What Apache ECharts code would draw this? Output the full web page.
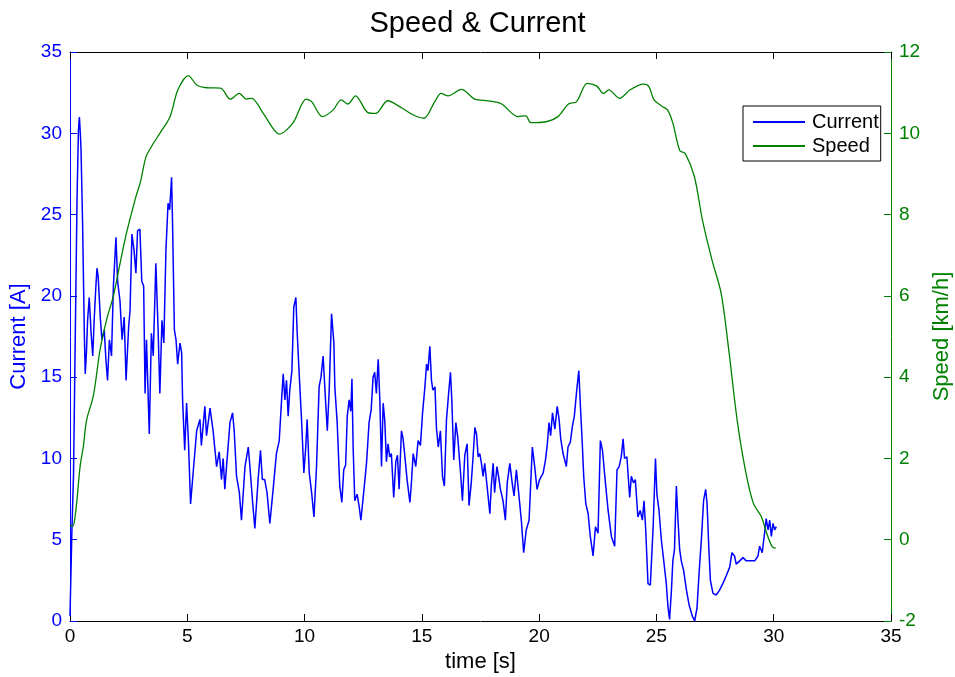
<!DOCTYPE html>
<html>
<head>
<meta charset="utf-8">
<script src="https://cdn.jsdelivr.net/npm/echarts@6/dist/echarts.min.js"></script>
<style>html,body{margin:0;padding:0;background:#fff;}#c{width:955px;height:677px;}</style>
</head>
<body>
<div id="c"></div>
<script>
var xTicks = [0, 5, 10, 15, 20, 25, 30, 35];
var currentTime = [0,0.08,0.15,0.22,0.3,0.36,0.40,0.44,0.47,0.54,0.61,0.65,0.70,0.75,0.82,0.90,0.97,1.03,1.10,1.15,1.20,1.29,1.36,1.46,1.53,1.60,1.68,1.77,1.85,1.96,2.03,2.13,2.22,2.31,2.39,2.50,2.56,2.64,2.73,2.81,2.88,2.98,3.06,3.14,3.20,3.26,3.38,3.47,3.55,3.66,3.76,3.83,3.92,4.00,4.09,4.18,4.25,4.33,4.37,4.45,4.52,4.59,4.69,4.76,4.80,4.89,4.97,5.05,5.14,5.26,5.40,5.54,5.60,5.75,5.82,5.97,6.10,6.25,6.36,6.46,6.53,6.60,6.70,6.82,6.93,7.00,7.10,7.22,7.31,7.46,7.60,7.67,7.78,7.88,8.02,8.12,8.20,8.30,8.40,8.52,8.66,8.80,8.92,9.02,9.09,9.16,9.23,9.30,9.37,9.46,9.54,9.63,9.68,9.77,9.87,9.97,10.05,10.11,10.20,10.30,10.40,10.51,10.62,10.70,10.79,10.90,10.97,11.05,11.15,11.25,11.29,11.39,11.50,11.59,11.67,11.75,11.82,11.90,11.97,12.02,12.07,12.14,12.24,12.33,12.40,12.50,12.64,12.75,12.84,12.92,12.99,13.06,13.14,13.21,13.28,13.35,13.42,13.49,13.56,13.63,13.70,13.80,13.89,13.96,14.03,14.13,14.20,14.27,14.37,14.49,14.55,14.63,14.74,14.84,14.94,15.03,15.13,15.20,15.26,15.34,15.41,15.47,15.56,15.62,15.70,15.79,15.88,15.96,16.05,16.13,16.22,16.28,16.36,16.45,16.53,16.65,16.73,16.83,16.93,17.01,17.10,17.17,17.26,17.33,17.40,17.47,17.54,17.61,17.68,17.78,17.90,17.96,18.04,18.10,18.20,18.27,18.35,18.46,18.56,18.64,18.75,18.85,18.93,19.03,19.14,19.24,19.34,19.45,19.57,19.62,19.71,19.81,19.91,20.02,20.17,20.27,20.35,20.42,20.49,20.57,20.67,20.77,20.85,20.92,21.02,21.09,21.16,21.23,21.33,21.42,21.50,21.59,21.69,21.77,21.84,21.90,21.99,22.09,22.18,22.30,22.40,22.51,22.61,22.70,22.80,22.94,23.08,23.22,23.32,23.41,23.50,23.58,23.64,23.74,23.86,23.93,24.02,24.10,24.21,24.31,24.40,24.47,24.54,24.64,24.74,24.86,24.96,25.02,25.11,25.21,25.32,25.42,25.49,25.56,25.64,25.70,25.77,25.85,25.92,25.99,26.06,26.16,26.28,26.39,26.53,26.63,26.73,26.82,26.92,27.01,27.10,27.16,27.23,27.30,27.41,27.55,27.69,27.83,27.98,28.12,28.22,28.33,28.40,28.55,28.69,28.83,28.98,29.19,29.33,29.40,29.51,29.61,29.68,29.76,29.83,29.90,29.97,30.04,30.11];
var currentValues = [0.3,5.5,9,17,26,30.2,31.0,30.0,29.0,24.2,17.7,15.2,16.5,18.5,19.9,17.7,16.3,18.5,20.5,21.7,21.2,18.7,17.3,17.9,16.1,14.8,17.3,16.3,20.6,23.6,20.9,19.7,17.3,18.7,14.8,18.1,19.1,23.8,22.8,21.4,24.0,24.1,20.9,20.6,14.0,17.3,11.5,17.7,16.3,22.0,17.7,14.0,18.5,17.1,22.8,25.7,25.3,27.3,24.6,17.9,17.3,15.8,17.1,16.5,13.6,10.5,13.4,11.0,7.2,9.3,11.7,12.4,10.8,13.2,11.4,13.1,11.7,9.5,10.4,8.7,10.0,8.1,10.0,12.2,12.8,11.7,8.9,7.9,6.2,9.5,10.7,9.5,7.4,5.7,8.7,10.5,8.7,8.7,7.9,6.0,8.1,10.3,11.1,13.6,15.2,13.6,14.8,12.6,14.2,15.4,19.3,19.9,17.9,15.2,12.4,9.1,10.7,12.4,9.1,7.9,6.4,9.5,14.4,15.0,16.3,13.4,11.7,14.2,18.9,17.1,14.4,12.2,8.3,7.3,9.3,9.6,12.6,13.6,12.9,14.9,10.7,7.4,7.8,7.0,6.2,7.6,9.7,12.2,13.0,15.0,15.3,14.0,16.1,13.5,9.5,13.4,12.3,9.8,10.9,10.1,10.3,7.6,9.8,10.2,8.1,11.7,11.2,10.2,8.7,7.3,8.4,10.3,9.5,11.1,10.8,12.8,14.4,15.8,15.4,16.9,14.8,14.2,14.4,11.9,10.7,11.7,8.9,8.3,12.4,13.8,15.3,13.5,9.9,12.2,11.3,9.1,7.4,10.2,10.9,7.1,8.4,9.8,11.9,11.5,10.1,10.3,9.7,8.9,9.7,8.3,6.6,8.3,9.7,7.9,9.5,8.9,8.1,7.4,6.2,8.5,9.7,8.5,7.7,9.3,7.7,6.2,4.2,5.6,6.2,7.8,10.7,9.5,8.1,8.7,9.1,9.9,10.9,12.2,11.4,12.8,11.8,13.2,12.4,11.2,10.3,9.9,9.5,10.7,11.0,12.0,12.6,14.0,15.4,12.9,10.9,8.9,7.2,6.6,5.2,4.0,5.8,5.4,11.1,10.5,8.9,6.8,5.2,4.6,9.3,9.5,10.1,11.2,10.0,10.1,7.6,8.9,8.5,8.7,6.4,6.8,6.2,7.4,5.7,2.3,2.2,5.8,10.0,7.8,6.8,5.0,3.6,2.3,0.9,0.1,1.9,3.7,4.4,8.3,6.2,4.4,3.7,3.1,1.9,1.0,0.3,0.0,0.8,3.0,5.1,7.4,8.1,7.2,4.6,2.5,1.7,1.6,1.9,2.3,2.8,3.3,4.2,4.0,3.5,3.7,3.9,3.7,3.7,3.7,4.0,4.6,4.2,5.4,6.3,5.6,6.2,5.2,6.0,5.6,5.8];
var speedTime = [0,0.12,0.2,0.3,0.43,0.57,0.71,1.0,1.28,1.56,1.85,2.1,2.39,2.81,3.0,3.24,3.5,3.83,4.26,4.6,5.05,5.4,5.84,6.42,6.83,7.22,7.52,7.75,8.24,8.93,9.5,10.07,10.3,10.76,11.21,11.56,11.85,12.17,12.7,13.04,13.54,14.18,14.64,15.09,15.55,15.82,16.12,16.69,17.26,17.83,18.4,19.09,19.43,19.65,20.34,20.8,21.25,21.6,22.05,22.46,22.74,22.97,23.43,23.88,24.45,24.68,24.9,25.25,25.48,25.7,26.0,26.23,26.62,26.96,27.37,27.76,28.1,28.44,28.79,29.13,29.47,29.7,29.93,30.08];
var speedValues = [0.36,0.33,0.5,1.0,1.8,2.3,2.95,3.55,4.67,5.41,6.0,6.7,7.5,8.44,8.8,9.42,9.7,10.0,10.4,11.07,11.42,11.19,11.12,11.11,10.84,10.98,10.84,10.86,10.49,9.98,10.25,10.84,10.78,10.41,10.57,10.82,10.72,10.92,10.51,10.49,10.8,10.61,10.45,10.37,10.78,10.98,10.92,11.08,10.84,10.8,10.72,10.41,10.43,10.26,10.29,10.41,10.72,10.78,11.23,11.16,10.98,11.07,10.86,11.07,11.21,11.15,10.82,10.66,10.57,10.25,9.57,9.5,8.93,7.87,6.88,6.06,4.59,2.95,1.72,0.9,0.57,0.16,-0.17,-0.21];

var FONT = '"Liberation Sans", Arial, sans-serif';
var BLUE = '#0000ff', GREEN = '#008000';

function pairs(xs, ys) { return xs.map(function (x, i) { return [x, ys[i]]; }); }

var chart = echarts.init(document.getElementById('c'), null, {renderer: 'canvas'});
chart.setOption({
  animation: false,
  backgroundColor: '#fff',
  textStyle: {fontFamily: FONT},
  title: {
    text: 'Speed & Current', left: 'center', top: 4,
    textStyle: {fontFamily: FONT, fontSize: 29, fontWeight: 'normal', color: '#000'}
  },
  legend: {
    orient: 'vertical', left: 743, top: 106,
    backgroundColor: '#fff', borderColor: '#000', borderWidth: 1, borderRadius: 0,
    padding: [5, 2, 4, 10], itemGap: 2, itemWidth: 52, itemHeight: 2,
    icon: 'rect',
    textStyle: {fontFamily: FONT, fontSize: 20, color: '#000', lineHeight: 22, padding: [0, 0, 0, 2]},
    data: [{name: 'Current', itemStyle: {color: BLUE}}, {name: 'Speed', itemStyle: {color: GREEN}}]
  },
  grid: {left: 70, right: 64, top: 52, bottom: 56, containLabel: false, outerBoundsMode: 'none'},
  xAxis: [{
    type: 'value', min: xTicks[0], max: xTicks[xTicks.length - 1], interval: 5, position: 'bottom',
    name: 'time [s]', nameLocation: 'middle', nameGap: 30,
    nameTextStyle: {fontFamily: FONT, fontSize: 22, color: '#000'},
    axisLine: {onZero: false, lineStyle: {color: '#000', width: 1}},
    axisTick: {inside: true, length: 7, lineStyle: {color: '#000'}},
    axisLabel: {fontFamily: FONT, fontSize: 19, color: '#000', margin: 6},
    splitLine: {show: false}
  }, {
    type: 'value', min: xTicks[0], max: xTicks[xTicks.length - 1], interval: 5, position: 'top',
    axisLine: {onZero: false, lineStyle: {color: '#000', width: 1}},
    axisTick: {inside: true, length: 7, lineStyle: {color: '#000'}},
    axisLabel: {show: false}, splitLine: {show: false}
  }],
  yAxis: [{
    type: 'value', min: 0, max: 35, interval: 5, position: 'left',
    name: 'Current [A]', nameLocation: 'middle', nameGap: 38, nameRotate: 90,
    nameTextStyle: {fontFamily: FONT, fontSize: 22, color: BLUE},
    axisLine: {show: true, onZero: false, lineStyle: {color: BLUE, width: 1}},
    axisTick: {show: true, inside: true, length: 7, lineStyle: {color: BLUE}},
    axisLabel: {fontFamily: FONT, fontSize: 19, color: BLUE, margin: 8},
    splitLine: {show: false}
  }, {
    type: 'value', min: -2, max: 12, interval: 2, position: 'right',
    name: 'Speed [km/h]', nameLocation: 'middle', nameGap: 36, nameRotate: 90,
    nameTextStyle: {fontFamily: FONT, fontSize: 22, color: GREEN},
    axisLine: {show: true, onZero: false, lineStyle: {color: GREEN, width: 1}},
    axisTick: {show: true, inside: true, length: 7, lineStyle: {color: GREEN}},
    axisLabel: {fontFamily: FONT, fontSize: 19, color: GREEN, margin: 8},
    splitLine: {show: false}
  }],
  series: [{
    name: 'Current', type: 'line', xAxisIndex: 0, yAxisIndex: 0,
    data: pairs(currentTime, currentValues), showSymbol: false, symbol: 'none',
    lineStyle: {color: BLUE, width: 1.5}, itemStyle: {color: BLUE}
  }, {
    name: 'Speed', type: 'line', xAxisIndex: 0, yAxisIndex: 1,
    data: pairs(speedTime, speedValues), showSymbol: false, symbol: 'none', smooth: 0.3,
    lineStyle: {color: GREEN, width: 1.3}, itemStyle: {color: GREEN}
  }]
});
</script>
</body>
</html>
